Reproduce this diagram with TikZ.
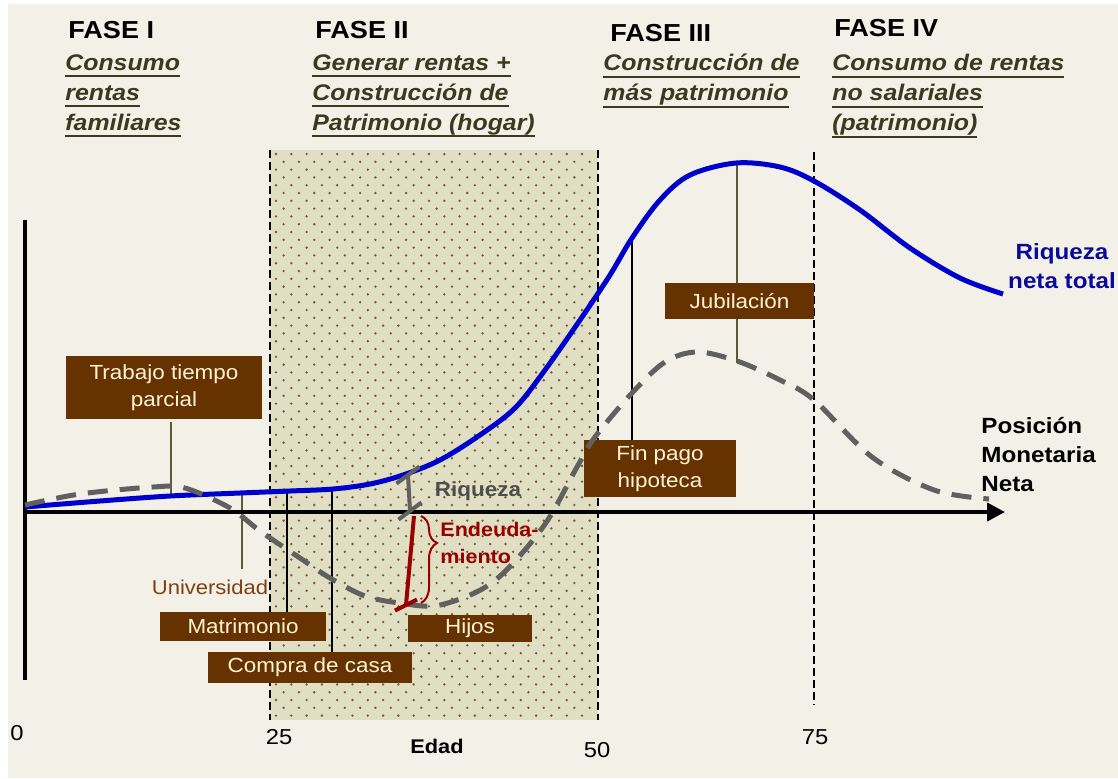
\documentclass[tikz,border=0pt]{standalone}
\usepackage{fontspec}
\setmainfont{Liberation Sans}[FakeStretch=1.1]
\usepackage{tikz}
\usepackage{xcolor}
\usetikzlibrary{backgrounds}
\usetikzlibrary{arrows.meta,positioning,calc,decorations.pathreplacing}
\definecolor{PageBackground}{HTML}{F3F0E8}
\definecolor{PhaseTwoBackground}{HTML}{E0DEC3}
\definecolor{PhaseTwoDot}{HTML}{7A5530}
\definecolor{EventBoxBackground}{HTML}{663300}
\definecolor{EventBoxText}{HTML}{FFF3D6}
\definecolor{LeaderOlive}{HTML}{5C5A36}
\definecolor{PhaseText}{HTML}{3B3A1E}
\definecolor{WealthBlue}{HTML}{0000CC}
\definecolor{WealthLabel}{HTML}{0A0A9A}
\definecolor{MonetaryGray}{HTML}{606060}
\definecolor{RiquezaText}{HTML}{4D4D4D}
\definecolor{DebtRed}{HTML}{990000}
\definecolor{UniversityBrown}{HTML}{7F4010}
\tikzstyle{PhaseTitle} =[font=\fontsize{12.3}{14}\selectfont\bfseries,anchor=west,inner sep=0]
\tikzstyle{PhaseSubtitle} =[font=\fontsize{11.3}{15}\selectfont\bfseries\itshape,text=PhaseText,anchor=north west,inner sep=0,align=left]
\tikzstyle{EventBox} =[fill=EventBoxBackground,text=EventBoxText,font=\fontsize{10.2}{13.3}\selectfont,inner sep=0,align=center]
\tikzstyle{EventLeader} =[draw=black,line width=1pt]
\tikzstyle{EventLeaderOlive} =[draw=LeaderOlive,line width=0.7pt]
\tikzstyle{AgeTick} =[font=\fontsize{10.8}{12}\selectfont,inner sep=0]
\tikzstyle{PhaseBorder} =[draw=black,line width=0.8pt,dash pattern=on 4pt off 2pt]
\tikzstyle{AxisLine} =[draw=black,line width=2pt]
\tikzstyle{WealthCurve} =[draw=WealthBlue,line width=2.5pt]
\tikzstyle{MonetaryCurve} =[draw=MonetaryGray,line width=2.5pt,dash pattern=on 10pt off 6pt]
\tikzstyle{MarkerGray} =[draw=MonetaryGray,line width=2pt]
\tikzstyle{MarkerRed} =[draw=DebtRed,line width=2pt]
\tikzstyle{CurveLabel} =[font=\fontsize{11}{14.5}\selectfont\bfseries,inner sep=0]
\newcommand{\PhaseUnderline}[1]{\setbox0=\hbox{#1}\rlap{\rule[-3.5pt]{\wd0}{1.1pt}}\box0}

\begin{document}
\begin{tikzpicture}[x=0.5pt,y=-0.5pt]
    \useasboundingbox (0,0) rectangle (1118,778);
    \fill[white] (0,0) rectangle (1118,778);
    \fill[PageBackground] (8,4) rectangle (1118,778);

    % Fase II band
    \fill[PhaseTwoBackground] (270,150) rectangle (598,720);
    \foreach \row in {0,...,72}
        \foreach \col in {0,...,20}
            \fill[PhaseTwoDot] ({276+\col*15.3+mod(\row,2)*7.65},{154+\row*7.8}) circle (0.65pt);
    \draw[PhaseBorder] (270,150) -- (270,720);
    \draw[PhaseBorder] (598,150) -- (598,720);
    \draw[PhaseBorder] (814,152) -- (814,705);

    \node[PhaseTitle](Fase-I) at (68,30){FASE I};
    \node[PhaseTitle](Fase-II) at (315,30){FASE II};
    \node[PhaseTitle](Fase-III) at (610,33){FASE III};
    \node[PhaseTitle](Fase-IV) at (834,28){FASE IV};
    \node[PhaseSubtitle](Fase-I-Text) at (65,54){\PhaseUnderline{Consumo}\\\PhaseUnderline{rentas}\\\PhaseUnderline{familiares}};
    \node[PhaseSubtitle](Fase-II-Text) at (312,54){\PhaseUnderline{Generar rentas +}\\\PhaseUnderline{Construcción de}\\\PhaseUnderline{Patrimonio (hogar)}};
    \node[PhaseSubtitle](Fase-III-Text) at (603,54){\PhaseUnderline{Construcción de}\\\PhaseUnderline{más patrimonio}};
    \node[PhaseSubtitle](Fase-IV-Text) at (832,54){\PhaseUnderline{Consumo de rentas}\\\PhaseUnderline{no salariales}\\\PhaseUnderline{(patrimonio)}};

    % events
    \node[EventBox,minimum width=98pt,minimum height=31.5pt](Trabajo-Tiempo-Parcial) at (164,387.5){Trabajo tiempo\\parcial};
    \node[EventBox,minimum width=83pt,minimum height=14.5pt](Matrimonio) at (243,626.5){Matrimonio};
    \node[EventBox,minimum width=102pt,minimum height=15.5pt](Compra-De-Casa) at (310,667.5){Compra de casa};
    \node[EventBox,minimum width=62pt,minimum height=13.5pt](Hijos) at (470,628.5){Hijos};
    \node[EventBox,minimum width=76pt,minimum height=28.5pt](Fin-Pago-Hipoteca) at (660,468.5){Fin pago\\hipoteca};
    \node[EventBox,minimum width=74.5pt,minimum height=18pt](Jubilacion) at (739.5,301){Jubilación};
    \node[font=\fontsize{10}{12}\selectfont,text=UniversityBrown,inner sep=0](Universidad) at (210,587){Universidad};

    \coordinate (Trabajo-Point) at (171,496);
    \coordinate (Universidad-Point) at (242,493);
    \coordinate (Matrimonio-Point) at (287,493);
    \coordinate (Compra-Point) at (332,488);
    \coordinate (Hipoteca-Point) at (632,237);
    \coordinate (Jubilacion-Top) at (737,163);
    \coordinate (Jubilacion-Bottom) at (737,363);
    \draw[EventLeaderOlive,shorten <=1.5pt] (Trabajo-Tiempo-Parcial.south -| Trabajo-Point) -- (Trabajo-Point);
    \draw[EventLeaderOlive,shorten >=5pt] (Universidad-Point) -- (Universidad-Point |- Universidad.north);
    \draw[EventLeader] (Matrimonio-Point) -- (Matrimonio-Point |- Matrimonio.north);
    \draw[EventLeader] (Compra-Point) -- (Compra-Point |- Compra-De-Casa.north);
    \draw[EventLeader] (Hipoteca-Point) -- (Hipoteca-Point |- Fin-Pago-Hipoteca.north);
    \draw[EventLeaderOlive] (Jubilacion-Top) -- (Jubilacion-Top |- Jubilacion.north);
    \draw[EventLeaderOlive] (Jubilacion-Bottom |- Jubilacion.south) -- (Jubilacion-Bottom);

    % axes
    \coordinate (Origin) at (25,512);
    \coordinate (Axis-End) at (1005,512);
    \draw[AxisLine] (25,220) -- (25,680);
    \draw[AxisLine,-{Triangle[length=9pt,width=9pt]}] (Origin) -- (Axis-End);

    \draw[WealthCurve] plot[smooth,tension=0.55] coordinates {(25,507) (100,501) (170,496) (240,493) (290,491) (333,489) (370,484) (403,475) (440,460) (480,435) (515,408) (545,370) (580,320) (610,275) (632,238) (660,200) (690,175) (736,163) (780,167) (814,181) (860,210) (910,248) (960,278) (1003,294)};
    \draw[MonetaryCurve] plot[smooth,tension=0.55] coordinates {(25,505) (80,494) (153,487) (185,488) (230,508) (260,531) (300,558) (330,578) (365,596) (400,603) (440,605) (493,582) (543,527) (577,467) (595,437) (632,393) (665,362) (697,352) (737,361) (780,380) (814,400) (872,457) (934,490) (989,499)};

    % Riqueza / Endeudamiento markers
    \coordinate (Riqueza-Top) at (408,475);
    \coordinate (Riqueza-Bottom) at (410,511);
    \draw[MarkerGray] (Riqueza-Top) -- (Riqueza-Bottom);
    \draw[MarkerGray] ($(Riqueza-Top)+(-11.5,8.5)$) -- ($(Riqueza-Top)+(11.5,-8.5)$);
    \draw[MarkerGray] ($(Riqueza-Bottom)+(-11.5,8.5)$) -- ($(Riqueza-Bottom)+(11.5,-8.5)$);
    \coordinate (Deuda-Top) at (414,516);
    \coordinate (Deuda-Bottom) at (406,605);
    \draw[MarkerRed] (Deuda-Top) -- (Deuda-Bottom);
    \draw[MarkerRed] ($(Deuda-Bottom)+(-11,5.5)$) -- ($(Deuda-Bottom)+(11,-5.5)$);
    \draw[draw=DebtRed,line width=1pt,decorate,decoration={brace,amplitude=8pt,aspect=0.31}] (421,516) -- (421,603);

    \node[font=\fontsize{10.2}{12}\selectfont\bfseries,text=RiquezaText,inner sep=0](Riqueza-Label) at (478,491){Riqueza};
    \node[font=\fontsize{9.8}{13.3}\selectfont\bfseries,text=DebtRed,inner sep=0,align=left,anchor=west](Endeudamiento-Label) at (440,543){Endeuda-\\miento};
    \node[CurveLabel,text=WealthLabel,align=center](Riqueza-Neta-Total) at (1062,266){Riqueza\\neta total};
    \node[CurveLabel,align=left,anchor=west](Posicion-Monetaria-Neta) at (981,455){Posición\\Monetaria\\Neta};

    % age axis
    \node[AgeTick](Age-0) at (17,733){0};
    \node[AgeTick](Age-25) at (279,737){25};
    \node[AgeTick](Age-50) at (597,750){50};
    \node[AgeTick](Age-75) at (815,737){75};
    \node[AgeTick,font=\fontsize{9.9}{12}\selectfont\bfseries](Edad) at (437,746){Edad};
\end{tikzpicture}
\end{document}
